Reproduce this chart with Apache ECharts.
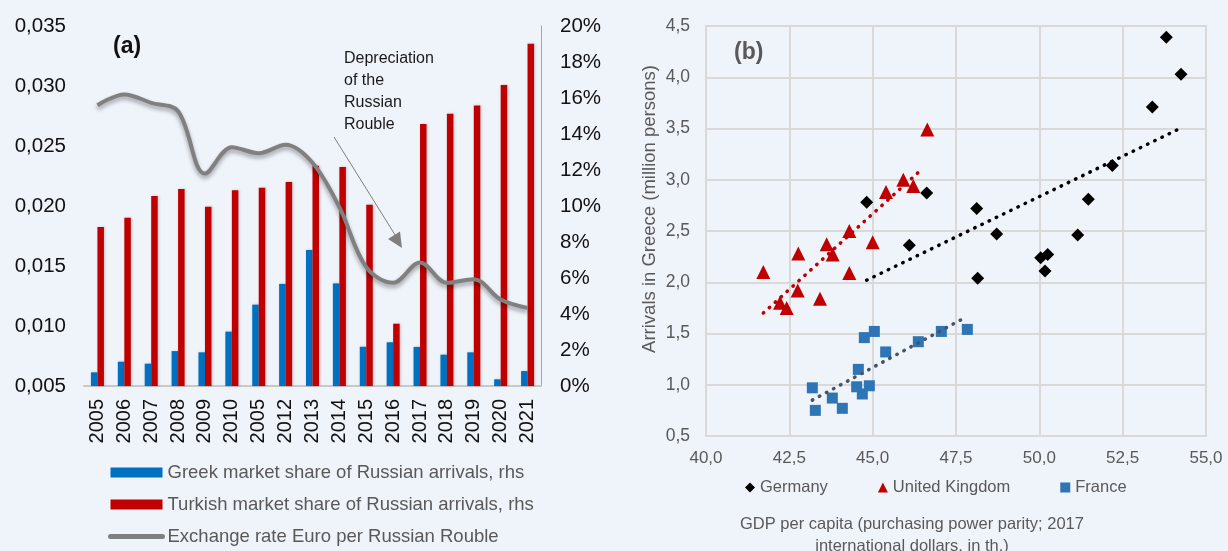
<!DOCTYPE html>
<html>
<head>
<meta charset="utf-8">
<title>Russian arrivals and GDP per capita</title>
<script src="https://cdn.jsdelivr.net/npm/echarts@6/dist/echarts.min.js"></script>
<style>
  html, body { margin: 0; padding: 0; background: #eff3fa; }
  #main { width: 1228px; height: 551px; }
</style>
</head>
<body>
<div id="main"></div>
<script>
// panel (a): years, market shares (%), exchange rate
var years = ['2005', '2006', '2007', '2008', '2009', '2010', '2005', '2012', '2013',
    '2014', '2015', '2016', '2017', '2018', '2019', '2020', '2021'];
var greekShare = [0.76, 1.35, 1.24, 1.94, 1.87, 3.02, 4.52, 5.67, 7.56,
    5.70, 2.18, 2.43, 2.17, 1.74, 1.87, 0.37, 0.83];
var turkishShare = [8.83, 9.35, 10.56, 10.94, 9.96, 10.87, 11.02, 11.33, 12.24,
    12.17, 10.07, 3.46, 14.56, 15.13, 15.59, 16.72, 19.02];
var euroPerRouble = [0.0284, 0.0293, 0.0286, 0.0279, 0.0227, 0.0249, 0.0244, 0.0251, 0.0236,
    0.0199, 0.0149, 0.0136, 0.0153, 0.0136, 0.0139, 0.0122, 0.0115];

// panel (b): [GDP per capita, arrivals]
var germany = [[44.82, 2.78], [46.62, 2.87], [46.10, 2.36], [48.12, 2.72], [48.15, 2.04],
    [48.72, 2.47], [50.04, 2.24], [50.25, 2.27], [50.17, 2.11], [51.15, 2.46],
    [51.47, 2.81], [52.19, 3.14], [53.39, 3.71], [53.81, 4.39], [54.25, 4.03]];
var unitedKingdom = [[41.72, 2.10], [42.77, 2.28], [42.22, 1.80], [42.42, 1.75], [42.75, 1.92],
    [43.42, 1.84], [43.62, 2.37], [43.80, 2.27], [44.30, 2.09], [44.30, 2.50],
    [45.00, 2.39], [45.40, 2.88], [45.92, 3.00], [46.22, 2.94], [46.64, 3.49]];
var france = [[43.19, 0.97], [43.28, 0.75], [43.79, 0.87], [44.09, 0.77], [44.52, 0.98],
    [44.57, 1.15], [44.69, 0.91], [44.75, 1.46], [44.90, 0.99], [45.05, 1.52],
    [45.39, 1.32], [46.37, 1.42], [47.06, 1.52], [47.84, 1.54]];
// linear trend lines, end points
var germanyTrend = [[44.82, 2.02], [54.22, 3.50]];
var ukTrend = [[41.72, 1.70], [46.50, 3.11]];
var franceTrend = [[43.19, 0.85], [47.80, 1.66]];

var FONT = 'Liberation Sans, Arial, sans-serif';
var GREY_TXT = '#595959';

function comma(digits) {
    return function (v) { return v.toFixed(digits).replace('.', ','); };
}

var chart = echarts.init(document.getElementById('main'));

var dotted = {
    width: 3.5,
    type: [0.5, 7.5],
    cap: 'round'
};

var option = {
    backgroundColor: '#eff3fa',
    textStyle: { fontFamily: FONT },
    animation: false,
    legend: [{
        data: [
            { name: 'Greek market share of Russian arrivals, rhs', icon: 'rect' },
            { name: 'Turkish market share of Russian arrivals, rhs', icon: 'rect' },
            { name: 'Exchange rate Euro per Russian Rouble',
              itemStyle: { opacity: 0 },
              lineStyle: { width: 5, cap: 'round', shadowBlur: 0 } }
        ],
        orient: 'vertical',
        left: 108,
        top: 463,
        padding: 0,
        itemWidth: 52,
        itemHeight: 10,
        itemGap: 13,
        textStyle: { color: GREY_TXT, fontSize: 18.5, fontFamily: FONT }
    }, {
        data: [
            { name: 'Germany', icon: 'diamond' },
            { name: 'United Kingdom', icon: 'triangle' },
            { name: 'France', icon: 'rect' }
        ],
        left: 745,
        top: 479,
        padding: 0,
        itemWidth: 10,
        itemHeight: 10,
        itemGap: 50,
        textStyle: { color: GREY_TXT, fontSize: 16.5, fontFamily: FONT }
    }],
    grid: [
        { left: 84, right: 687, top: 26, bottom: 165 },
        { left: 706, right: 22, top: 26, bottom: 115, show: true,
          borderColor: '#d9d9d9', borderWidth: 2 }
    ],
    xAxis: [{
        type: 'category',
        gridIndex: 0,
        data: years,
        axisLine: { lineStyle: { color: '#c8c8c8', width: 2 } },
        axisTick: { show: false },
        axisLabel: { rotate: 90, color: '#111', fontSize: 20, margin: 13, fontFamily: FONT }
    }, {
        type: 'value',
        gridIndex: 1,
        min: 40, max: 55, interval: 2.5,
        axisLine: { show: true, lineStyle: { color: '#d9d9d9', width: 2 } },
        axisTick: { show: false },
        splitLine: { lineStyle: { color: '#d9d9d9', width: 2 } },
        axisLabel: { color: GREY_TXT, fontSize: 17, margin: 14, formatter: comma(1), fontFamily: FONT }
    }],
    yAxis: [{
        type: 'value',
        gridIndex: 0,
        min: 0.005, max: 0.035, interval: 0.005,
        axisLine: { show: false },
        axisTick: { show: false },
        splitLine: { show: false },
        axisLabel: { color: '#111', fontSize: 20.5, margin: 18, formatter: comma(3), fontFamily: FONT }
    }, {
        type: 'value',
        gridIndex: 0,
        position: 'right',
        min: 0, max: 20, interval: 2,
        axisLine: { show: true, lineStyle: { color: '#a6a6a6', width: 1 } },
        axisTick: { show: false },
        splitLine: { show: false },
        axisLabel: { color: '#111', fontSize: 20.5, margin: 19, formatter: '{value}%', fontFamily: FONT }
    }, {
        type: 'value',
        gridIndex: 1,
        min: 0.5, max: 4.5, interval: 0.5,
        axisLine: { show: true, lineStyle: { color: '#d9d9d9', width: 2 } },
        axisTick: { show: false },
        splitLine: { lineStyle: { color: '#d9d9d9', width: 2 } },
        axisLabel: { color: GREY_TXT, fontSize: 17.5, margin: 16, formatter: comma(1), fontFamily: FONT }
    }],
    series: [{
        name: 'Greek market share of Russian arrivals, rhs',
        type: 'bar',
        xAxisIndex: 0, yAxisIndex: 1,
        data: greekShare,
        barWidth: 6.5,
        barGap: '0%',
        itemStyle: { color: '#0070c0', shadowColor: 'rgba(0,0,0,0.2)', shadowBlur: 3, shadowOffsetX: 1 }
    }, {
        name: 'Turkish market share of Russian arrivals, rhs',
        type: 'bar',
        xAxisIndex: 0, yAxisIndex: 1,
        data: turkishShare,
        barWidth: 6.5,
        barGap: '0%',
        itemStyle: { color: '#c00000', shadowColor: 'rgba(0,0,0,0.2)', shadowBlur: 3, shadowOffsetX: 1 }
    }, {
        name: 'Exchange rate Euro per Russian Rouble',
        type: 'line',
        xAxisIndex: 0, yAxisIndex: 0,
        data: euroPerRouble,
        smooth: 0.35,
        symbol: 'none',
        z: 5,
        itemStyle: { color: '#808080' },
        lineStyle: { color: '#808080', width: 4, shadowColor: 'rgba(0,0,0,0.35)', shadowBlur: 4, shadowOffsetY: 3 }
    }, {
        name: 'Germany',
        type: 'scatter',
        xAxisIndex: 1, yAxisIndex: 2,
        data: germany,
        symbol: 'diamond',
        symbolSize: 13,
        itemStyle: { color: '#000000', opacity: 1 }
    }, {
        name: 'United Kingdom',
        type: 'scatter',
        xAxisIndex: 1, yAxisIndex: 2,
        data: unitedKingdom,
        symbol: 'triangle',
        symbolSize: 14,
        itemStyle: { color: '#c00000', opacity: 1 }
    }, {
        name: 'France',
        type: 'scatter',
        xAxisIndex: 1, yAxisIndex: 2,
        data: france,
        symbol: 'rect',
        symbolSize: 11,
        itemStyle: { color: '#2e75b6', opacity: 1 }
    }, {
        name: 'Germany trend',
        type: 'line',
        xAxisIndex: 1, yAxisIndex: 2,
        data: germanyTrend,
        symbol: 'none',
        lineStyle: Object.assign({ color: '#000000' }, dotted)
    }, {
        name: 'United Kingdom trend',
        type: 'line',
        xAxisIndex: 1, yAxisIndex: 2,
        data: ukTrend,
        symbol: 'none',
        lineStyle: Object.assign({ color: '#c00000' }, dotted)
    }, {
        name: 'France trend',
        type: 'line',
        xAxisIndex: 1, yAxisIndex: 2,
        data: franceTrend,
        symbol: 'none',
        lineStyle: Object.assign({ color: '#44546a' }, dotted)
    }],
    graphic: [{
        type: 'text',
        x: 113, y: 47,
        style: { text: '(a)', font: 'bold 23px ' + FONT, fill: '#111', verticalAlign: 'middle' }
    }, {
        type: 'text',
        x: 734, y: 53,
        style: { text: '(b)', font: 'bold 23px ' + FONT, fill: GREY_TXT, verticalAlign: 'middle' }
    }, {
        type: 'text',
        left: 344, top: 48,
        style: {
            text: 'Depreciation\nof the\nRussian\nRouble',
            font: '16px ' + FONT, fill: '#1a1a1a', lineHeight: 22
        }
    }, {
        type: 'line',
        shape: { x1: 334, y1: 137, x2: 397, y2: 238 },
        style: { stroke: '#7f7f7f', lineWidth: 1 }
    }, {
        type: 'polygon',
        shape: { points: [[402, 248], [388, 239], [400, 231.5]] },
        style: { fill: '#7f7f7f' }
    }, {
        type: 'text',
        x: 650, y: 209,
        rotation: Math.PI / 2,
        style: {
            text: 'Arrivals in Greece (million persons)',
            font: '18.5px ' + FONT, fill: GREY_TXT, align: 'center', verticalAlign: 'middle'
        }
    }, {
        type: 'text',
        x: 912, y: 513,
        style: {
            text: 'GDP per capita (purchasing power parity; 2017\ninternational dollars, in th.)',
            font: '16.5px ' + FONT, fill: GREY_TXT, align: 'center', lineHeight: 22
        }
    }]
};

chart.setOption(option);
window.addEventListener('resize', function () {
    chart.resize();
});
</script>
</body>
</html>
